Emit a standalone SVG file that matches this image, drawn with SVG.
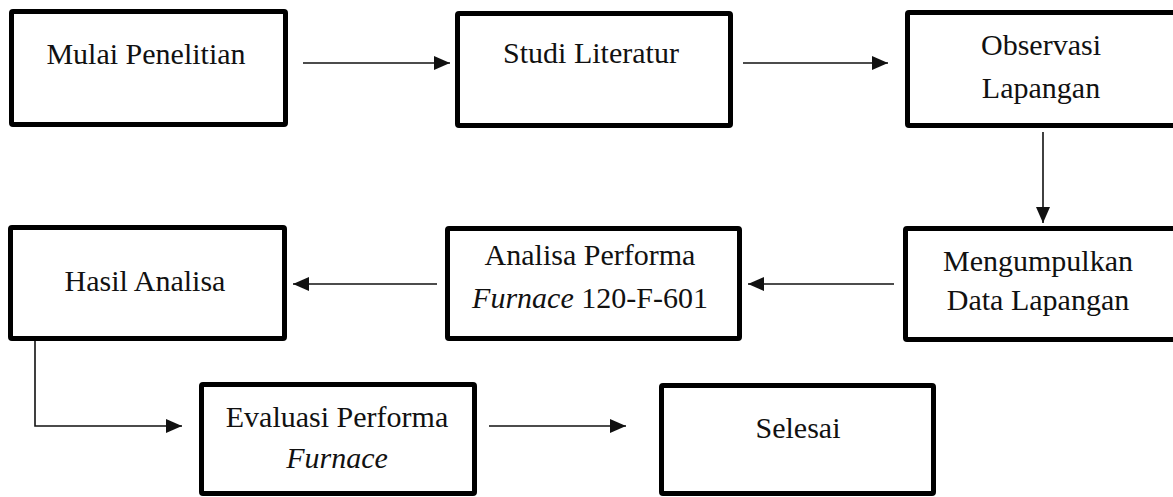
<svg xmlns="http://www.w3.org/2000/svg" width="1173" height="497" viewBox="0 0 1173 497">
<style>
.box{fill:#fff;stroke:#000;stroke-width:5;}
.t{font-family:'Liberation Serif','Times New Roman',serif;font-size:30px;fill:#111;text-anchor:middle;}
.i{font-style:italic;}
.c{fill:none;stroke:#111;stroke-width:1.6;}
</style>
<defs>
<marker id="ah" markerUnits="userSpaceOnUse" markerWidth="16" markerHeight="14" refX="16" refY="7" orient="auto">
<path d="M0,0 L16,7 L0,14 Z" fill="#111"/>
</marker>
</defs>
<rect width="1173" height="497" fill="#fff"/>
<g id="connectors">
<line class="c" x1="303" y1="63" x2="450" y2="63" marker-end="url(#ah)"/>
<line class="c" x1="743" y1="63" x2="888" y2="63" marker-end="url(#ah)"/>
<line class="c" x1="1043" y1="132" x2="1043" y2="223" marker-end="url(#ah)"/>
<line class="c" x1="894" y1="284" x2="748" y2="284" marker-end="url(#ah)"/>
<line class="c" x1="437" y1="284" x2="293" y2="284" marker-end="url(#ah)"/>
<polyline class="c" points="35,336 35,426 182,426" marker-end="url(#ah)"/>
<line class="c" x1="489" y1="426" x2="626" y2="426" marker-end="url(#ah)"/>
</g>
<g id="n1"><rect class="box" x="11.5" y="11.5" width="274" height="113" rx="1.5"/><text class="t" x="146" y="64">Mulai Penelitian</text></g>
<g id="n2"><rect class="box" x="457.5" y="13.5" width="273" height="112" rx="1.5"/><text class="t" x="591" y="63">Studi Literatur</text></g>
<g id="n3"><rect class="box" x="907.5" y="12.5" width="280" height="113" rx="1.5"/><text class="t" x="1041" y="55">Observasi</text><text class="t" x="1041" y="98">Lapangan</text></g>
<g id="n4"><rect class="box" x="905.5" y="228.5" width="280" height="111" rx="1.5"/><text class="t" x="1038" y="271">Mengumpulkan</text><text class="t" x="1038" y="310">Data Lapangan</text></g>
<g id="n5"><rect class="box" x="447.5" y="228.5" width="292" height="110" rx="1.5"/><text class="t" x="590" y="265">Analisa Performa</text><text class="t" x="590" y="308"><tspan class="i">Furnace</tspan>  120-F-601</text></g>
<g id="n6"><rect class="box" x="10.5" y="227.5" width="274" height="111" rx="1.5"/><text class="t" x="145" y="291">Hasil Analisa</text></g>
<g id="n7"><rect class="box" x="201.5" y="384.5" width="273" height="109" rx="1.5"/><text class="t" x="337" y="427">Evaluasi Performa</text><text class="t i" x="337" y="468">Furnace</text></g>
<g id="n8"><rect class="box" x="661.5" y="385.5" width="272" height="108" rx="1.5"/><text class="t" x="798" y="438">Selesai</text></g>
</svg>
